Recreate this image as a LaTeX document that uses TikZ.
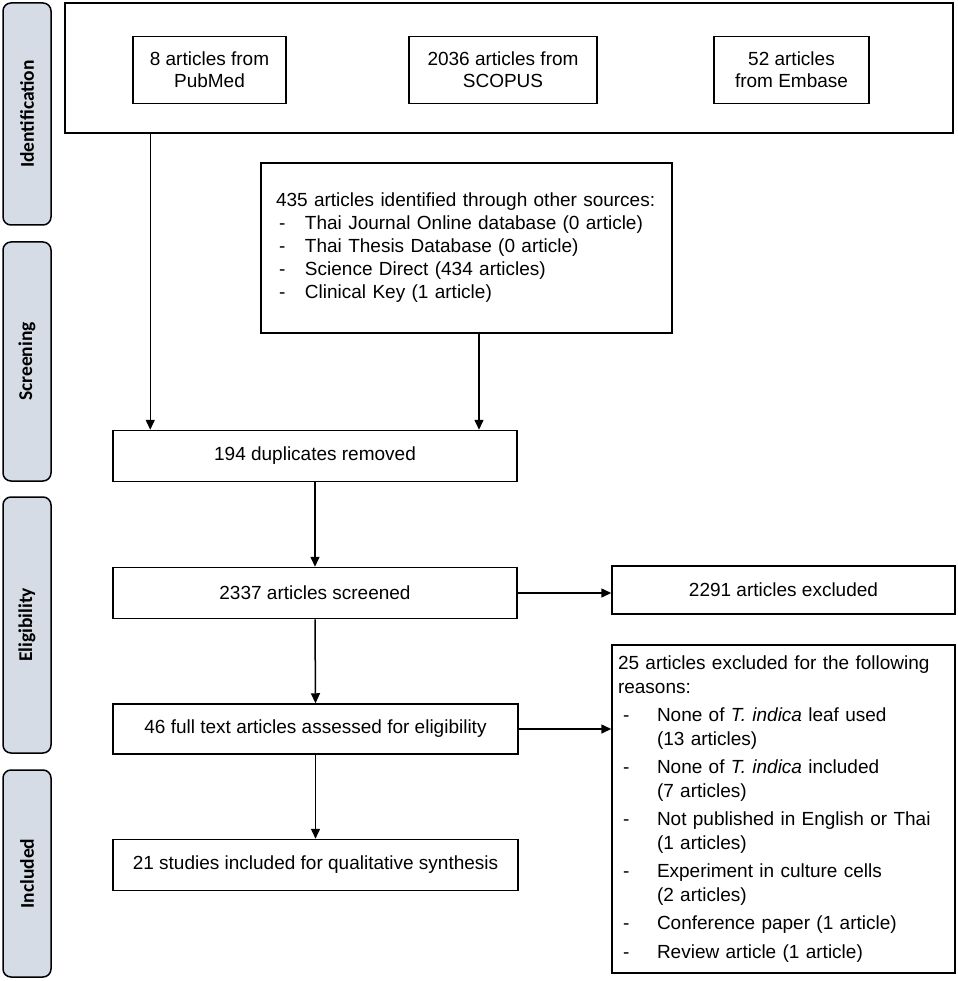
\documentclass[tikz,border=0pt]{standalone}
\usepackage{fontspec}
\setmainfont{Liberation Sans}
\newfontfamily\sidefont{Carlito}
\usepackage{xcolor}
\usetikzlibrary{calc, positioning, arrows.meta}
\definecolor{sidegray}{RGB}{214,220,229}
\newcommand{\srcitem}{\hspace*{3pt}\makebox[26pt][l]{-}}
\newcommand{\exitem}{\hspace*{5pt}\makebox[34pt][l]{-}}
\newcommand{\exindent}{\hspace*{39pt}}

\begin{document}
\begin{tikzpicture}
			[x=1pt, y=-1pt,
			box/.style={draw, line width=1.5pt, inner sep=0pt, align=center, font=\fontsize{19}{22}\selectfont},
			side/.style={draw, line width=1.5pt, fill=sidegray, rounded corners=8pt, rotate=90, minimum height=48pt, inner sep=0pt, font=\sidefont\bfseries\fontsize{19.5}{22}\selectfont},
			flow/.style={-{Triangle[length=10pt, width=9pt]}, line width=1.5pt}]
		\useasboundingbox (0,0) rectangle (957,981);
		% stages %
		\node[side, minimum width=222pt] (ident) at (27,114) {Identification};
		\node[side, minimum width=239pt] (screen) at (27,361.5) {Screening};
		\node[side, minimum width=256pt] (elig) at (27,625) {Eligibility};
		\node[side, minimum width=207pt] (inc) at (27,873.5) {Included};

		% nodes %
		\node[box, minimum width=888pt, minimum height=130pt] (db) at (509,68) {};
		\node[box, minimum width=153pt, minimum height=67pt] (pubmed) at (209.5,70) {8 articles from\\PubMed};
		\node[box, minimum width=188pt, minimum height=67pt] (scopus) at (503,70) {2036 articles from\\SCOPUS};
		\node[box, minimum width=155pt, minimum height=67pt] (embase) at (791.5,70) {52 articles\\from Embase};
		\node[box, align=left, inner xsep=15pt, text width=381pt, minimum height=170pt, font=\fontsize{19}{23}\selectfont] (other) at (466.5,248)
			{435 articles identified through other sources:\\
			\srcitem Thai Journal Online database (0 article)\\
			\srcitem Thai Thesis Database (0 article)\\
			\srcitem Science Direct (434 articles)\\
			\srcitem Clinical Key (1 article)};
		\node[box, minimum width=404pt, minimum height=51pt] (dup) at (315,456) {194 duplicates removed};
		\node[box, minimum width=404pt, minimum height=51pt] (screened) at (315,593) {2337 articles screened};
		\node[box, minimum width=343pt, minimum height=48pt] (excl) at (783.5,590) {2291 articles excluded};
		\node[box, minimum width=405pt, minimum height=50pt] (full) at (315.5,729) {46 full text articles assessed for eligibility};
		\node[box, minimum width=405pt, minimum height=51pt] (incl) at (315.5,865) {21 studies included for qualitative synthesis};
		\node[box, align=left, inner xsep=6pt, text width=331pt, minimum height=328pt, font=\fontsize{19}{23.5}\selectfont] (reasons) at (783.5,809)
			{25 articles excluded for the following\\
			reasons:\\[5pt]
			\exitem None of \textit{T. indica} leaf used\\
			\exindent (13 articles)\\[5pt]
			\exitem None of \textit{T. indica} included\\
			\exindent (7 articles)\\[5pt]
			\exitem Not published in English or Thai\\
			\exindent (1 articles)\\[5pt]
			\exitem Experiment in culture cells\\
			\exindent (2 articles)\\[5pt]
			\exitem Conference paper (1 article)\\[5pt]
			\exitem Review article (1 article)};

		% edges %
		\draw[flow] ([xshift=38pt]dup.north west |- db.south) -- ([xshift=38pt]dup.north west);
		\draw[flow] ([xshift=12.5pt]other.south) -- ([xshift=12.5pt]other.south |- dup.north);
		\draw[flow] (dup.south) -- (screened.north);
		\draw[flow] (screened.east) -- (screened.east -| excl.west);
		\draw[flow] (screened.south) -- (full.north);
		\draw[flow] (full.east) -- (full.east -| reasons.west);
		\draw[flow] (full.south) -- (incl.north);
		\end{tikzpicture}
\end{document}
